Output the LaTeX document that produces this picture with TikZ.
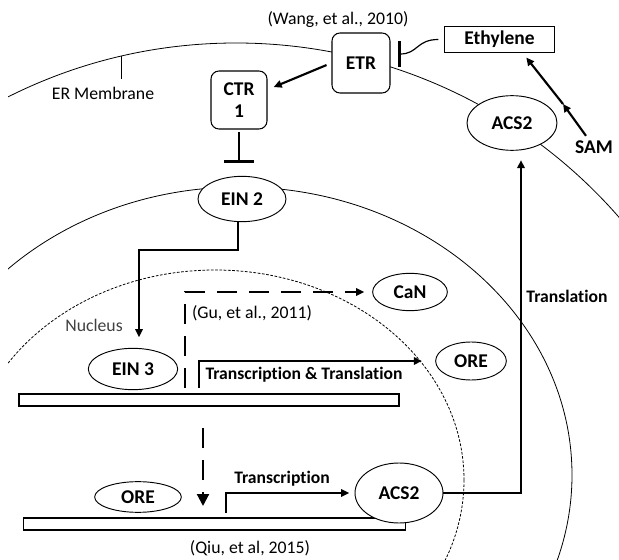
\documentclass[tikz,border=0pt]{standalone}
\usepackage{fontspec}
\setmainfont{Carlito}[Ligatures=NoCommon]
\usetikzlibrary{arrows.meta, shapes.geometric, calc}
\newcommand\boxfont{\fontsize{14.6}{17}\selectfont\bfseries}
\newcommand\stepfont{\fontsize{13.2}{15}\selectfont\bfseries}
\newcommand\notefont{\fontsize{13.3}{15}\selectfont}

\begin{document}
\begin{tikzpicture}[
  x=0.75pt, y=-0.75pt,
  rbox/.style={draw, rounded corners=6pt, fill=white, line width=0.8pt, font=\boxfont, align=center, inner sep=0pt},
  plainbox/.style={draw, fill=white, line width=0.8pt, font=\boxfont, inner sep=0pt},
  oval/.style={draw, ellipse, fill=white, line width=0.7pt, font=\boxfont, inner sep=0pt},
  dna/.style={draw, fill=white, line width=0.8pt, inner sep=0pt, minimum height=9pt},
  arr/.style={-{Triangle[length=6pt,width=5.5pt]}, line width=1.6pt},
  darr/.style={arr, dash pattern=on 15pt off 9pt},
  inhib/.style={-{Bar[width=22pt,line width=2.2pt]}, line width=1.6pt},
  memb/.style={line width=0.6pt},
  nucl/.style={line width=0.6pt, dash pattern=on 2pt off 1.2pt},
  note/.style={font=\notefont},
  steplbl/.style={font=\stepfont}
]
\useasboundingbox (0,0) rectangle (619,560);

% membranes
\begin{scope}
  \clip (8,0) rectangle (619,560);
  \draw[memb] (236,551) circle [radius=508];
  \draw[memb] (240,475) ellipse [x radius=332, y radius=288];
  \draw[nucl] (215,480) ellipse [x radius=249, y radius=210];
\end{scope}

% cytoplasm side
\node[note] (wang) at (338,20) {(Wang, et al., 2010)};
\node[rbox, minimum width=43.5pt, minimum height=45pt] (etr) at (361,63) {ETR};
\node[plainbox, minimum width=83pt, minimum height=20pt] (ethylene) at (499.5,39.5) {Ethylene};
\node[rbox, minimum width=42pt, minimum height=43.5pt] (ctr) at (239,100) {CTR\\1};
\node[oval, minimum width=67.5pt, minimum height=41pt] (acstop) at (512,123) {ACS2};
\node[font=\boxfont] (sam) at (594,147) {SAM};
\node[note] (ermem) at (103,93) {ER Membrane};
\node[oval, minimum width=66pt, minimum height=34pt] (ein2) at (242,199) {EIN 2};
\node[steplbl] (transl) at (567,296) {Translation};

% nucleus side
\node[note, text=black!75] (nucleus) at (94,325) {Nucleus};
\node[oval, minimum width=67pt, minimum height=31pt] (ein3) at (133,369) {EIN 3};
\node[oval, minimum width=56pt, minimum height=28pt] (can) at (410,292) {CaN};
\node[note] (gu) at (252,313) {(Gu, et al., 2011)};
\node[oval, minimum width=53pt, minimum height=28.5pt] (oreright) at (471,361) {ORE};
\node[steplbl] (tt) at (304,375) {Transcription \& Translation};
\node[dna, minimum width=285pt] (dnatop) at (209,400) {};
\node[oval, minimum width=65pt, minimum height=23pt] (oreleft) at (138,497) {ORE};
\node[steplbl] (tx) at (282,479) {Transcription};
\node[dna, minimum width=286pt] (dnabot) at (214.5,524) {};
\node[oval, minimum width=66pt, minimum height=45pt] (acsbot) at (399,493) {ACS2};
\node[note] (qiu) at (250,548) {(Qiu, et al, 2015)};

\coordinate (ertick) at (121,56);
\coordinate (etrbar) at (398,54);
\coordinate (ein2bar) at (239,163);
\coordinate (acc) at (563,104);
\coordinate (bend) at (139,250);
\coordinate (gustart) at (185,388);
\coordinate (ttstart) at (199,388);
\coordinate (downstart) at (203,428);
\coordinate (downend) at (203,506);
\coordinate (txstart) at (226,513);
\coordinate (trcorner) at (521,493);

\draw[memb] (ertick) -- ++(0,23);
\draw[arr, shorten <=4pt, shorten >=5pt] (etr.west) -- (ctr.20);
\draw[inhib, shorten <=2pt] (ctr.south) -- (ein2bar);
\draw[-{Bar[width=19pt,line width=2.2pt]}, line width=0.9pt] ([xshift=-4pt]ethylene.west) .. controls +(-22,0) and +(20,0) .. (etrbar);
\draw[arr] ([xshift=-6pt]sam.north) -- (acc);
\draw[arr, shorten >=4pt] (acc) -- ($(ethylene.south east)!0.29!(ethylene.south west)$);
\draw[arr, shorten >=8pt] ([xshift=-3pt]ein2.south) |- (bend) -- ([xshift=4.5pt]ein3.north);
\draw[darr, shorten >=6pt] (gustart) |- (can);
\draw[arr, shorten >=10pt] (ttstart) |- (oreright);
\draw[darr, -{Triangle[length=9pt,width=9pt]}] (downstart) -- (downend);
\draw[arr, shorten >=4pt] (txstart) |- (acsbot);
\draw[arr, shorten >=7pt] (acsbot) -- (trcorner) -- (acstop.south -| trcorner);
\end{tikzpicture}
\end{document}
